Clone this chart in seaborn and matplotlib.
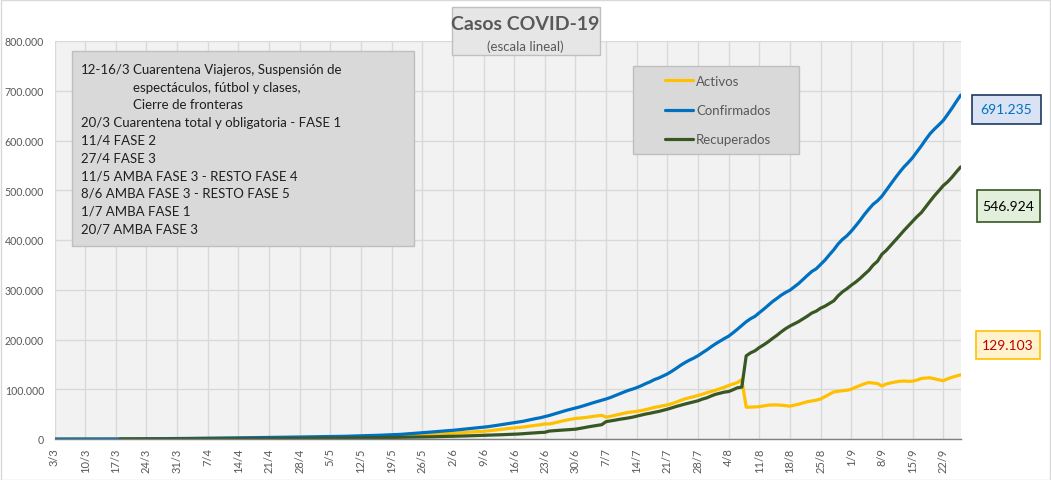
import matplotlib
matplotlib.use("Agg")
import numpy as np
import pandas as pd
import seaborn as sns
import matplotlib.pyplot as plt
from matplotlib.patches import Rectangle

# ---------------- data ----------------
fecha_inicio = "2020-03-03"

confirmados = [
    1, 1, 1, 2, 8, 9, 12, 17, 19, 21, 31, 34, 45, 56, 65,
    79, 97, 128, 158, 225, 266, 301, 387, 502, 589, 690, 745, 820, 966,
    1054, 1133, 1265, 1353, 1451, 1554, 1628, 1715, 1795, 1894, 1975, 2142, 2208, 2277, 2443,
    2571, 2669, 2758, 2839, 2941, 3031, 3144, 3288, 3435, 3607, 3780, 3892, 4003, 4127, 4285,
    4428, 4532, 4681, 4783, 4887, 5020, 5208, 5371, 5611, 5776, 6034, 6265, 6563, 6879, 7134,
    7479, 7805, 8068, 8371, 8809, 9283, 9931, 10649, 11353, 12076, 12628, 13228, 13933, 14702,
    15419, 16214,
    16851, 17415, 18319, 19268, 20197, 21037, 22020, 22794, 23620, 24761, 25987, 27373, 28764,
    30295, 31577, 32785, 34159, 35552, 37510, 39570, 41204, 42785, 44931, 47216, 49851, 52457,
    55343, 57744, 59933, 62268,
    64530, 67197, 69941, 72786, 75376, 77815, 80447, 83426, 87030, 90693, 94060, 97509, 100166,
    103265, 106910, 111160, 114783, 119301, 122524, 126755, 130774, 136118, 141900, 148027,
    153520, 158334, 162526, 167416, 173355, 178996, 185373,
    191302, 196543, 201919, 206743, 213535, 220682, 228195, 235677, 241811, 246499, 253868,
    260911, 268574, 276072, 282437, 289100, 294569, 299126, 305966, 312659, 320884, 329043,
    336802, 342154, 350867, 359638, 370188, 380292, 392009, 401239, 408426,
    417735, 428239, 439172, 451198, 461882, 471806, 478792, 488007, 500034, 512293, 524198,
    535705, 546481, 555537, 565446, 577338, 589012, 601713, 613658, 622934, 631365, 640147,
    652174, 664799, 678266, 691235,
]

activos = [
    1, 1, 1, 2, 8, 9, 11, 16, 18, 20, 29, 32, 43, 54, 63,
    74, 92, 122, 152, 218, 235, 244, 327, 427, 500, 599, 497, 556, 691,
    770, 831, 946, 985, 1067, 1143, 1205, 1277, 1283, 1344, 1377, 1493, 1515, 1555, 1647,
    1712, 1759, 1806, 1863, 1925, 1960, 2003, 2082, 2143, 2253, 2372, 2440, 2533, 2591, 2704,
    2789, 2844, 2945, 2995, 2995, 3035, 3141, 3234, 3394, 3456, 3571, 3670, 3825, 3954, 4146,
    4360, 4551, 4721, 4906, 5210, 5566, 6064, 6581, 7079, 7699, 8129, 8553, 9064, 9557,
    10092, 10542,
    10959, 11409, 12004, 12740, 13369, 13843, 14455, 14898, 15480, 16356, 17164, 18265, 19383,
    20564, 21447, 22320, 23209, 24028, 25243, 26641, 27666, 28642, 30353, 30182, 32064, 34003,
    36306, 38062, 39582, 41288,
    42000, 43000, 44000, 45500, 46500, 47500, 44000, 45500, 47500, 49500, 51500, 53500, 54500,
    55500, 57000, 59000, 61000, 63500, 65000, 67000, 68500, 71000, 74000, 77500, 80500, 83000,
    85000, 87500, 90000, 93000, 95500,
    98000, 101000, 104000, 107500, 110500, 113500, 119500, 64000, 64000, 64500, 65000, 66500,
    68000, 68500, 68500, 68000, 67000, 66000, 68000, 70000, 72500, 75000, 76500, 78000, 80500,
    85000, 90000, 94500, 96000, 97000, 98000,
    100000, 104000, 107500, 111000, 113500, 112500, 111500, 106500, 110500, 112800, 114500,
    116000, 116500, 116000, 116200, 118500, 121600, 122500, 123000, 121000, 119000, 117000,
    121000, 124000, 126500, 129103,
]

nan = np.nan
recuperados = [
    nan, nan, nan, nan, nan, nan, nan, nan, nan, nan, nan, nan, nan, nan, nan,
    3, 3, 3, 3, 3, 27, 51, 52, 63, 72, 72, 228, 240, 248,
    256, 266, 280, 325, 338, 358, 365, 375, 440, 468, 515, 559, 596, 620, 685,
    737, 781, 820, 840, 872, 919, 976, 1030, 1107, 1162, 1211, 1245, 1256, 1318, 1356,
    1402, 1442, 1476, 1524, 1619, 1703, 1774, 1837, 1912, 2006, 2144, 2266, 2385, 2569, 2625,
    2746, 2872, 2954, 3062, 3183, 3284, 3422, 3616, 3807, 3893, 3999, 4167, 4349, 4617,
    4788, 5116,
    5323, 5423, 5707, 5896, 6180, 6530, 6872, 7179, 7405, 7655, 8058, 8323, 8566,
    8898, 9276, 9587, 10037, 10576, 11288, 11937, 12527, 13100, 13500, 15918, 16637, 17270,
    17830, 18450, 19100, 19700,
    21223, 22846, 24556, 25876, 27386, 28795, 34865, 36290, 37836, 39473, 40786, 42199, 43821,
    45862, 47942, 50110, 51671, 53623, 55304, 57495, 59901, 62628, 65312, 67825, 70213, 72441,
    74587, 76857, 80176, 82708, 86467,
    89802, 91943, 94219, 95393, 99035, 102982, 104295, 167127, 173161, 177249, 183918, 189261,
    195224, 202022, 208287, 215350, 221719, 227076, 231666, 236109, 241634, 247093, 253252,
    257004, 262967, 267038, 272338, 277742, 287759, 295889, 301976,
    309035, 315339, 322572, 330848, 338782, 349556, 357342, 371307, 379134, 388843, 398798,
    408555, 418681, 428087, 437546, 446838, 454962, 466563, 477858, 488934, 498865, 509197,
    516724, 526049, 536766, 546924,
]

series = ["Activos", "Confirmados", "Recuperados"]
colores = {"Activos": "#ffc000", "Confirmados": "#0070c0", "Recuperados": "#385723"}
y_ticks = [0, 100000, 200000, 300000, 400000, 500000, 600000, 700000, 800000]

titulo = "Casos COVID-19"
subtitulo = "(escala lineal)"
notas = [
    ("12-16/3", "Cuarentena Viajeros, Suspensión de"),
    ("", "espectáculos, fútbol y clases,"),
    ("", "Cierre de fronteras"),
    ("20/3 Cuarentena total y obligatoria - FASE 1", None),
    ("11/4 FASE 2", None),
    ("27/4 FASE 3", None),
    ("11/5 AMBA FASE 3 - RESTO FASE 4", None),
    ("8/6 AMBA FASE 3 - RESTO FASE 5", None),
    ("1/7 AMBA FASE 1", None),
    ("20/7 AMBA FASE 3", None),
]

# ---------------- figure ----------------
sns.set_style("white")
plt.rcParams["font.family"] = ["Lato", "DejaVu Sans"]

W, H = 1051, 481
fig = plt.figure(figsize=(W / 100, H / 100), dpi=100)
fig.patch.set_facecolor("white")


def fx(x):
    return x / W


def fy(y):
    return 1 - y / H


ax = fig.add_axes([fx(54.5), fy(440), (960.7 - 54.5) / W, (440 - 42) / H])
ax.set_facecolor("#f2f2f2")

fechas = pd.date_range(fecha_inicio, periods=len(confirmados), freq="D")
df = pd.DataFrame({"fecha": fechas, "Activos": activos,
                   "Confirmados": confirmados, "Recuperados": recuperados})
largo = df.melt(id_vars="fecha", var_name="serie", value_name="casos").dropna()

sns.lineplot(data=largo, x="fecha", y="casos", hue="serie", hue_order=series,
             palette=colores, linewidth=2.3, estimator=None, legend=False, ax=ax)

ax.set_xlim(fechas[0], fechas[-1])
ax.set_ylim(0, 800000)
ax.set_xlabel("")
ax.set_ylabel("")

mayores = fechas[::7]
ax.set_xticks(mayores)
ax.set_xticklabels([f"{d.day}/{d.month}" for d in mayores], rotation=90)
ax.set_xticks(fechas, minor=True)
ax.set_yticks(y_ticks)
ax.set_yticklabels([f"{v:,.0f}".replace(",", ".") for v in y_ticks])

ax.grid(True, which="major", color="#d9d9d9", linewidth=1.0)
ax.set_axisbelow(True)
for s in ["left", "top", "right"]:
    ax.spines[s].set_visible(False)
ax.spines["bottom"].set_color("#7f7f7f")
ax.spines["bottom"].set_linewidth(1.0)
ax.tick_params(axis="x", which="both", direction="out", length=3, width=0.8,
               color="#7f7f7f", labelsize=8, labelcolor="#595959", pad=3)
ax.tick_params(axis="y", which="both", length=0, labelsize=7.6,
               labelcolor="#595959", pad=7.5)

# legend (box drawn separately, legend placed on top)
fig.add_artist(Rectangle((fx(632.5), fy(154.5)), (798.5 - 632.5) / W, (154.5 - 66.5) / H,
                         transform=fig.transFigure, facecolor="#d9d9d9",
                         edgecolor="#bfbfbf", linewidth=1.0, zorder=5))
leg = fig.legend(ax.get_lines()[:3], series, loc="upper left",
                 bbox_to_anchor=(fx(665), fy(76)), bbox_transform=fig.transFigure,
                 frameon=False, fontsize=9.5, handlelength=2.1, handletextpad=0.25,
                 labelspacing=1.3, borderaxespad=0, borderpad=0)
leg.set_zorder(7)
for t in leg.get_texts():
    t.set_color("#595959")

# title box
fig.add_artist(Rectangle((fx(451.5), fy(56)), (599.5 - 451.5) / W, (56 - 8) / H,
                         transform=fig.transFigure, facecolor="#e6e6e6",
                         edgecolor="#bfbfbf", linewidth=1.0, zorder=5))
fig.text(fx(525.5), fy(24), titulo, ha="center", va="center", fontsize=14,
         fontweight="bold", color="#595959", zorder=6)
fig.text(fx(525.5), fy(46.5), subtitulo, ha="center", va="center", fontsize=9.5,
         color="#595959", zorder=6)

# notes box
fig.add_artist(Rectangle((fx(71.5), fy(246.5)), (414 - 71.5) / W, (246.5 - 51.5) / H,
                         transform=fig.transFigure, facecolor="#d9d9d9",
                         edgecolor="#bfbfbf", linewidth=1.0, zorder=5))
y0, dy = 70, 17.7
for i, (a, b) in enumerate(notas):
    yy = fy(y0 + i * dy)
    if a:
        fig.text(fx(81), yy, a, ha="left", va="center", fontsize=9.5,
                 color="#1f1f1f", zorder=6)
    if b is not None:
        fig.text(fx(133), yy, b, ha="left", va="center", fontsize=9.5,
                 color="#1f1f1f", zorder=6)

# value boxes
cajas = [
    (f"{confirmados[-1]:,}".replace(",", "."), 972, 1040.5, 96, 125, "#dae3f3", "#203864", "#0070c0"),
    (f"{recuperados[-1]:,}".replace(",", "."), 977, 1039.5, 191, 223, "#e2efda", "#375623", "#000000"),
    (f"{activos[-1]:,}".replace(",", "."), 976, 1039.5, 332, 360, "#fff2cc", "#ffc000", "#c00000"),
]
for txt, x0, x1, ya, yb, fc, ec, tc in cajas:
    fig.add_artist(Rectangle((fx(x0), fy(yb)), (x1 - x0) / W, (yb - ya) / H,
                             transform=fig.transFigure, facecolor=fc, edgecolor=ec,
                             linewidth=1.2, zorder=5))
    fig.text(fx((x0 + x1) / 2), fy((ya + yb) / 2), txt, ha="center", va="center",
             fontsize=10, color=tc, zorder=6)

# outer border
fig.add_artist(Rectangle((0.5 / W, 0.5 / H), 1 - 1.5 / W, 1 - 1.5 / H,
                         transform=fig.transFigure, fill=False, edgecolor="#d9d9d9",
                         linewidth=1.0, zorder=10))

fig.savefig("out.png", dpi=100, facecolor="white")
